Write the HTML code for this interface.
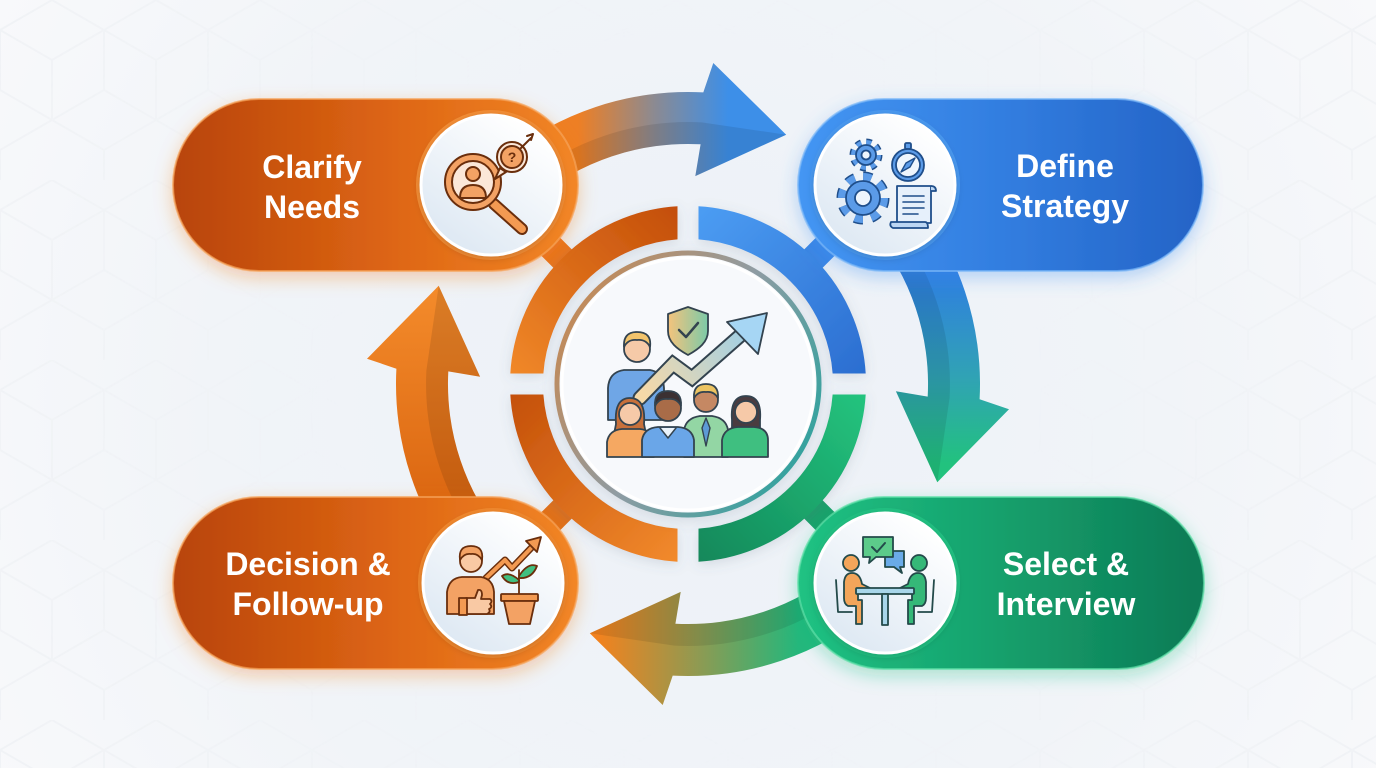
<!DOCTYPE html>
<html>
<head>
<meta charset="utf-8">
<style>
  html,body{margin:0;padding:0;width:1376px;height:768px;overflow:hidden;background:#f3f5f8;}
  svg{display:block;}
  .lbl{font-family:"Liberation Sans",Arial,sans-serif;font-weight:700;font-size:32px;fill:#ffffff;}
</style>
</head>
<body>
<svg width="1376" height="768" viewBox="0 0 1376 768" xmlns="http://www.w3.org/2000/svg">
  <defs>
    <radialGradient id="bg" cx="688" cy="400" r="800" gradientUnits="userSpaceOnUse">
      <stop offset="0" stop-color="#ecf1f7"/>
      <stop offset="0.6" stop-color="#f1f4f8"/>
      <stop offset="1" stop-color="#f8f9fb"/>
    </radialGradient>
    <pattern id="hex" width="104" height="180" patternUnits="userSpaceOnUse">
      <g fill="none" stroke="#e9ecf0" stroke-width="2">
        <path d="M52 0 L104 30 L104 90 L52 120 L0 90 L0 30 Z"/>
        <path d="M52 60 L52 120 M52 60 L104 30 M52 60 L0 30"/>
        <path d="M0 150 L0 210 M104 150 L104 210 M0 150 L52 120 M104 150 L52 120"/>
      </g>
    </pattern>
    <radialGradient id="bgmask" cx="688" cy="384" r="760" gradientUnits="userSpaceOnUse">
      <stop offset="0.45" stop-color="#fff" stop-opacity="0"/>
      <stop offset="1" stop-color="#fff" stop-opacity="1"/>
    </radialGradient>
    <mask id="hexmask"><rect width="1376" height="768" fill="url(#bgmask)"/></mask>

    <linearGradient id="gTop" x1="-110" y1="0" x2="40" y2="0" gradientUnits="userSpaceOnUse">
      <stop offset="0" stop-color="#ee7f24"/>
      <stop offset="0.5" stop-color="#8d8a90"/>
      <stop offset="1" stop-color="#3d8fe8"/>
    </linearGradient>
    <linearGradient id="gRight" x1="-110" y1="0" x2="80" y2="0" gradientUnits="userSpaceOnUse">
      <stop offset="0" stop-color="#2f7fe0"/>
      <stop offset="0.55" stop-color="#30a3b4"/>
      <stop offset="1" stop-color="#22c27e"/>
    </linearGradient>
    <linearGradient id="gBottom" x1="-110" y1="0" x2="90" y2="0" gradientUnits="userSpaceOnUse">
      <stop offset="0" stop-color="#24b77c"/>
      <stop offset="0.5" stop-color="#8f9a52"/>
      <stop offset="1" stop-color="#f2821e"/>
    </linearGradient>
    <linearGradient id="gLeft" x1="-110" y1="0" x2="90" y2="0" gradientUnits="userSpaceOnUse">
      <stop offset="0" stop-color="#dc6812"/>
      <stop offset="1" stop-color="#f38a2a"/>
    </linearGradient>

    <linearGradient id="rTL" x1="510" y1="384" x2="688" y2="207" gradientUnits="userSpaceOnUse">
      <stop offset="0" stop-color="#f28a2a"/>
      <stop offset="1" stop-color="#c24c08"/>
    </linearGradient>
    <linearGradient id="rTR" x1="698" y1="207" x2="866" y2="384" gradientUnits="userSpaceOnUse">
      <stop offset="0" stop-color="#4c9df3"/>
      <stop offset="1" stop-color="#2a6ccf"/>
    </linearGradient>
    <linearGradient id="rBR" x1="866" y1="394" x2="698" y2="561" gradientUnits="userSpaceOnUse">
      <stop offset="0" stop-color="#24c47e"/>
      <stop offset="1" stop-color="#12885a"/>
    </linearGradient>
    <linearGradient id="rBL" x1="510" y1="394" x2="677" y2="561" gradientUnits="userSpaceOnUse">
      <stop offset="0" stop-color="#c4500a"/>
      <stop offset="1" stop-color="#f28a2c"/>
    </linearGradient>
    <linearGradient id="innerRing" x1="557" y1="300" x2="819" y2="460" gradientUnits="userSpaceOnUse">
      <stop offset="0" stop-color="#c9884f"/>
      <stop offset="0.5" stop-color="#8f9ca3"/>
      <stop offset="1" stop-color="#2aa39e"/>
    </linearGradient>

    <clipPath id="cTL"><rect x="0" y="0" width="677.5" height="373.5"/></clipPath>
    <clipPath id="cTR"><rect x="698.5" y="0" width="700" height="373.5"/></clipPath>
    <clipPath id="cBR"><rect x="698.5" y="394.5" width="700" height="400"/></clipPath>
    <clipPath id="cBL"><rect x="0" y="394.5" width="677.5" height="400"/></clipPath>

    <linearGradient id="pOrange" x1="0" y1="0" x2="1" y2="0">
      <stop offset="0" stop-color="#b8440a"/>
      <stop offset="0.55" stop-color="#de6614"/>
      <stop offset="1" stop-color="#f28626"/>
    </linearGradient>
    <linearGradient id="pBlue" x1="0" y1="0" x2="1" y2="0">
      <stop offset="0" stop-color="#4496f3"/>
      <stop offset="0.5" stop-color="#327ee0"/>
      <stop offset="1" stop-color="#2463c6"/>
    </linearGradient>
    <linearGradient id="pGreen" x1="0" y1="0" x2="1" y2="0">
      <stop offset="0" stop-color="#20c283"/>
      <stop offset="0.5" stop-color="#15a06c"/>
      <stop offset="1" stop-color="#0d7a55"/>
    </linearGradient>
    <linearGradient id="circFill" x1="0.8" y1="0.1" x2="0.2" y2="0.95">
      <stop offset="0" stop-color="#ffffff"/>
      <stop offset="1" stop-color="#dde8f3"/>
    </linearGradient>

    <filter id="shO" x="-20%" y="-40%" width="140%" height="180%">
      <feDropShadow dx="0" dy="6" stdDeviation="9" flood-color="#f07a20" flood-opacity="0.35"/>
    </filter>
    <filter id="shB" x="-20%" y="-40%" width="140%" height="180%">
      <feDropShadow dx="0" dy="6" stdDeviation="9" flood-color="#3a8ef0" flood-opacity="0.35"/>
    </filter>
    <filter id="shG" x="-20%" y="-40%" width="140%" height="180%">
      <feDropShadow dx="0" dy="6" stdDeviation="9" flood-color="#20c080" flood-opacity="0.35"/>
    </filter>
    <filter id="shC" x="-30%" y="-30%" width="160%" height="160%">
      <feDropShadow dx="0" dy="2" stdDeviation="4" flood-color="#000" flood-opacity="0.18"/>
    </filter>
    <filter id="shSoft" x="-30%" y="-30%" width="160%" height="160%">
      <feDropShadow dx="0" dy="3" stdDeviation="6" flood-color="#5a6a80" flood-opacity="0.18"/>
    </filter>

    <linearGradient id="shieldG" x1="0" y1="0" x2="1" y2="0">
      <stop offset="0" stop-color="#f4c37c"/>
      <stop offset="1" stop-color="#7ccaa8"/>
    </linearGradient>
    <linearGradient id="trendG" x1="642" y1="392" x2="767" y2="313" gradientUnits="userSpaceOnUse">
      <stop offset="0" stop-color="#f6d9a8"/>
      <stop offset="1" stop-color="#8ecdf2"/>
    </linearGradient>

    <path id="arrowShape" d="M -187.7,-223.7 A 292 292 0 0 1 15.3,-291.6 L 25.3,-321 L 98.2,-249.3 L 7.3,-207.9 L 12.6,-239.7 A 240 240 0 0 0 -154.3,-183.8 Z"/>
    <path id="arrowShade" d="M -168.4,-200.7 A 262 262 0 0 1 13.7,-261.6 L 12.6,-239.7 A 240 240 0 0 0 -154.3,-183.8 Z M 13.7,-261.6 L 98.2,-249.3 L 7.3,-207.9 L 12.6,-239.7 Z"/>
  </defs>

  <rect width="1376" height="768" fill="url(#bg)"/>
  <rect width="1376" height="768" fill="url(#hex)" mask="url(#hexmask)" opacity="0.45"/>

  <!-- arrows -->
  <g transform="translate(688,384)">
    <g>
      <use href="#arrowShape" fill="url(#gTop)"/>
      <use href="#arrowShade" fill="#000" opacity="0.09"/>
    </g>
    <g transform="rotate(90)">
      <use href="#arrowShape" fill="url(#gRight)"/>
      <use href="#arrowShade" fill="#000" opacity="0.09"/>
    </g>
    <g transform="rotate(180)">
      <use href="#arrowShape" fill="url(#gBottom)"/>
      <use href="#arrowShade" fill="#000" opacity="0.09"/>
    </g>
    <g transform="rotate(270)">
      <use href="#arrowShape" fill="url(#gLeft)"/>
      <use href="#arrowShade" fill="#000" opacity="0.1"/>
    </g>
  </g>

  <!-- ring bridges -->
  <g stroke-width="26" stroke-linecap="butt">
    <line x1="567.8" y1="263.8" x2="528" y2="224" stroke="#e8741e"/>
    <line x1="808.2" y1="263.8" x2="848" y2="224" stroke="#3a86e6"/>
    <line x1="808.2" y1="504.2" x2="848" y2="544" stroke="#1aa06a"/>
    <line x1="567.8" y1="504.2" x2="528" y2="544" stroke="#e0701a"/>
  </g>

  <!-- ring segments -->
  <g fill="none" stroke-width="33" filter="url(#shSoft)">
    <circle cx="688" cy="384" r="161.5" stroke="url(#rTL)" clip-path="url(#cTL)"/>
    <circle cx="688" cy="384" r="161.5" stroke="url(#rTR)" clip-path="url(#cTR)"/>
    <circle cx="688" cy="384" r="161.5" stroke="url(#rBR)" clip-path="url(#cBR)"/>
    <circle cx="688" cy="384" r="161.5" stroke="url(#rBL)" clip-path="url(#cBL)"/>
  </g>

  <!-- inner circle -->
  <circle cx="688" cy="384" r="131" fill="#f7f9fc" stroke="url(#innerRing)" stroke-width="5" filter="url(#shSoft)"/>
  <circle cx="688" cy="384" r="126" fill="none" stroke="#ffffff" stroke-width="3" opacity="0.9"/>

  <!-- center icon -->
  <g stroke="#33434f" stroke-width="1.8" stroke-linejoin="round" stroke-linecap="round">
    <path d="M688,307 L708,314 L708,331 C708,342 699,349 688,355 C677,349 668,342 668,331 L668,314 Z" fill="url(#shieldG)"/>
    <path d="M679,330 L686,337 L698,323" fill="none" stroke-width="2.5"/>
    <path d="M608,420 L608,388 Q609,372 624,370 L650,370 Q663,372 664,388 L664,420 Z" fill="#6fa6e6"/>
    <circle cx="637" cy="349" r="13" fill="#f6caa8"/>
    <path d="M624,347 Q623,332 637,332 Q652,332 650,347 Q646,339 637,340 Q628,339 624,347 Z" fill="#f2c46c"/>
    <polyline points="640,398 673,364 692,378 750,327" fill="none" stroke="#33434f" stroke-width="15" stroke-linejoin="miter"/>
    <polyline points="640,398 673,364 692,378 750,327" fill="none" stroke="url(#trendG)" stroke-width="11" stroke-linejoin="miter"/>
    <path d="M767,313 L727,322 L758,354 Z" fill="#a6d6f4"/>
    <path d="M684,457 L684,430 Q686,418 700,416 L712,416 Q726,418 728,430 L728,457 Z" fill="#93d6a4"/>
    <path d="M706,418 L702,428 L706,446 L710,428 Z" fill="#5d9ad6" stroke-width="1.4"/>
    <circle cx="706" cy="400" r="12" fill="#c58863"/>
    <path d="M694,398 Q693,384 706,384 Q719,384 718,398 Q714,391 706,392 Q698,391 694,398 Z" fill="#ecc462"/>
    <path d="M732,420 Q730,396 746,396 Q762,396 760,420 L760,432 L732,432 Z" fill="#4a3c40"/>
    <path d="M722,457 L722,440 Q724,428 738,427 L754,427 Q768,428 768,440 L768,457 Z" fill="#3fbf80"/>
    <circle cx="746" cy="412" r="11" fill="#f6c9a8"/>
    <path d="M616,424 Q614,398 630,398 Q646,398 644,424 L646,434 L614,434 Z" fill="#c8703a"/>
    <path d="M607,457 L607,442 Q609,430 622,429 L640,429 Q652,430 654,442 L654,457 Z" fill="#f5a862"/>
    <circle cx="630" cy="414" r="11" fill="#f6c9a8"/>
    <path d="M642,457 L642,440 Q644,428 658,427 L678,427 Q692,428 694,440 L694,457 Z" fill="#6aa6e8"/>
    <path d="M660,428 L668,438 L676,428" fill="#eaf3fb" stroke-width="1.5"/>
    <circle cx="668" cy="408" r="13" fill="#a96c48"/>
    <path d="M655,406 Q654,391 668,391 Q682,391 681,406 Q677,398 668,399 Q659,398 655,406 Z" fill="#3b3032"/>
  </g>

  <!-- pills -->
  <rect x="173" y="99" width="405" height="172" rx="86" fill="url(#pOrange)" stroke="#f7a45a" stroke-opacity="0.7" stroke-width="2" filter="url(#shO)"/>
  <rect x="798" y="99" width="405" height="172" rx="86" fill="url(#pBlue)" stroke="#7ab8f8" stroke-opacity="0.7" stroke-width="2" filter="url(#shB)"/>
  <rect x="173" y="497" width="405" height="172" rx="86" fill="url(#pOrange)" stroke="#f7a45a" stroke-opacity="0.7" stroke-width="2" filter="url(#shO)"/>
  <rect x="798" y="497" width="406" height="172" rx="86" fill="url(#pGreen)" stroke="#5ee0a8" stroke-opacity="0.7" stroke-width="2" filter="url(#shG)"/>

  <!-- icon circles -->
  <circle cx="491" cy="185" r="75" fill="#f48e36"/>
  <circle cx="885" cy="185" r="75" fill="#4a9af2"/>
  <circle cx="493" cy="583" r="75" fill="#f2892e"/>
  <circle cx="885" cy="583" r="75" fill="#22c283"/>
  <g filter="url(#shC)">
    <circle cx="491" cy="185" r="70" fill="url(#circFill)" stroke="#ffffff" stroke-width="3"/>
    <circle cx="885" cy="185" r="70" fill="url(#circFill)" stroke="#ffffff" stroke-width="3"/>
    <circle cx="493" cy="583" r="70" fill="url(#circFill)" stroke="#ffffff" stroke-width="3"/>
    <circle cx="885" cy="583" r="70" fill="url(#circFill)" stroke="#ffffff" stroke-width="3"/>
  </g>

  <!-- labels -->
  <text class="lbl" x="312" y="178" text-anchor="middle">Clarify</text>
  <text class="lbl" x="312" y="218" text-anchor="middle">Needs</text>
  <text class="lbl" x="1065" y="177" text-anchor="middle">Define</text>
  <text class="lbl" x="1065" y="217" text-anchor="middle">Strategy</text>
  <text class="lbl" x="308" y="575" text-anchor="middle">Decision &amp;</text>
  <text class="lbl" x="308" y="615" text-anchor="middle">Follow-up</text>
  <text class="lbl" x="1066" y="575" text-anchor="middle">Select &amp;</text>
  <text class="lbl" x="1066" y="615" text-anchor="middle">Interview</text>

  <!-- Clarify icon -->
  <g stroke="#6a2e0c" stroke-width="2" stroke-linejoin="round" stroke-linecap="round">
    <line x1="494" y1="204" x2="522" y2="229" stroke-width="12"/>
    <line x1="494" y1="204" x2="522" y2="229" stroke="#f39a52" stroke-width="8"/>
    <circle cx="473" cy="182" r="28" fill="#f3a264"/>
    <circle cx="473" cy="182" r="21" fill="#fbe7d8"/>
    <circle cx="473" cy="174" r="7" fill="#f3a264"/>
    <path d="M460,198 Q460,185 473,185 Q486,185 486,198 Z" fill="#f3a264"/>
    <path d="M500,168 L495,179 L506,172 Z" fill="#fbe7d8"/>
    <circle cx="512" cy="157" r="15" fill="#fbe7d8"/>
    <circle cx="512" cy="157" r="11" fill="#f3a264"/>
    <line x1="520" y1="149" x2="531" y2="138"/>
    <path d="M527,136 L533,134 L531,140" fill="none"/>
  </g>
  <text x="512" y="162" text-anchor="middle" font-family="Liberation Sans,Arial,sans-serif" font-weight="700" font-size="14" fill="#6a2e0c">?</text>

  <!-- Strategy icon -->
  <g stroke="#1f4e8a" stroke-width="1.8" stroke-linejoin="round">
    <circle cx="866" cy="155" r="12.5" fill="none" stroke="#1f4e8a" stroke-width="8" stroke-dasharray="4.9 4.9"/>
    <circle cx="866" cy="155" r="12.5" fill="none" stroke="#5b9be8" stroke-width="5" stroke-dasharray="4.9 4.9"/>
    <circle cx="866" cy="155" r="10" fill="#5b9be8"/>
    <circle cx="866" cy="155" r="4.5" fill="#eef5fd"/>
    <circle cx="863" cy="198" r="21" fill="none" stroke="#1f4e8a" stroke-width="11" stroke-dasharray="8.2 8.3"/>
    <circle cx="863" cy="198" r="21" fill="none" stroke="#5b9be8" stroke-width="8" stroke-dasharray="8.2 8.3"/>
    <circle cx="863" cy="198" r="17" fill="#5b9be8"/>
    <circle cx="863" cy="198" r="8" fill="#eef5fd"/>
    <rect x="905" y="143" width="6" height="6" rx="1.5" fill="#5b9be8"/>
    <circle cx="908" cy="165" r="16" fill="#5b9be8"/>
    <circle cx="908" cy="165" r="12" fill="#eef5fd"/>
    <path d="M915,158 L910,167 L901,172 L906,163 Z" fill="#5b9be8" stroke-width="1.4"/>
    <path d="M897,186 L931,186 L931,223 L897,223 Z" fill="#e6f0fb"/>
    <path d="M931,186 Q936,186 936,191 L931,191" fill="#bcd6f3"/>
    <path d="M891,222 L925,222 Q928,222 928,228 L893,228 Q889,226 891,222 Z" fill="#bcd6f3"/>
    <g stroke-width="1.6" stroke-linecap="round">
      <line x1="903" y1="196" x2="924" y2="196"/>
      <line x1="903" y1="202" x2="924" y2="202"/>
      <line x1="903" y1="208" x2="924" y2="208"/>
      <line x1="903" y1="214" x2="918" y2="214"/>
    </g>
  </g>

  <!-- Decision icon -->
  <g stroke="#6a2e0c" stroke-width="1.8" stroke-linejoin="round" stroke-linecap="round">
    <polyline points="486,578 505,560 512,568 533,546" fill="none" stroke-width="7"/>
    <polyline points="486,578 505,560 512,568 533,546" fill="none" stroke="#f39a52" stroke-width="4"/>
    <path d="M541,537 L526,541 L537,552 Z" fill="#f39a52"/>
    <path d="M447,614 L447,592 Q449,578 462,577 L481,577 Q493,579 494,592 L494,614 Z" fill="#f3a264"/>
    <circle cx="471" cy="561" r="11" fill="#f9c9a4"/>
    <path d="M460,560 Q458,546 471,546 Q484,546 482,560 Q478,553 471,554 Q464,553 460,560 Z" fill="#f3a264"/>
    <path d="M466,598 L475,598 L478,590 Q482,589 482,595 L481,599 L490,599 Q493,601 490,604 Q493,607 489,609 Q491,612 487,614 L466,614 Z" fill="#f9c9a4"/>
    <rect x="459" y="598" width="8" height="17" fill="#f39a52"/>
    <line x1="519" y1="596" x2="519" y2="570"/>
    <path d="M519,580 Q509,571 502,576 Q508,586 519,582 Z" fill="#3fbf80"/>
    <path d="M519,576 Q528,562 537,566 Q532,579 519,578 Z" fill="#3fbf80"/>
    <rect x="501" y="594" width="37" height="7" rx="1" fill="#f39a52"/>
    <path d="M504,601 L535,601 L530,624 L509,624 Z" fill="#f3a264"/>
  </g>

  <!-- Interview icon -->
  <g stroke="#234a4a" stroke-width="1.8" stroke-linejoin="round" stroke-linecap="round">
    <path d="M836,580 L838,612 L852,612" fill="none"/>
    <path d="M934,580 L932,612 L918,612" fill="none"/>
    <path d="M844,598 L844,582 Q845,573 852,573 Q860,573 862,584 L870,588 L870,593 L858,593 L858,600 L862,600 L862,624 L856,624 L856,606 L848,606 Q844,604 844,598 Z" fill="#f3a55a"/>
    <circle cx="851" cy="563" r="8" fill="#f3a55a"/>
    <path d="M926,598 L926,582 Q925,573 918,573 Q910,573 908,584 L900,588 L900,593 L912,593 L912,600 L908,600 L908,624 L914,624 L914,606 L922,606 Q926,604 926,598 Z" fill="#35b878"/>
    <circle cx="919" cy="563" r="8" fill="#35b878"/>
    <rect x="856" y="588" width="58" height="6" rx="1" fill="#a8d6ea"/>
    <rect x="882" y="594" width="6" height="31" fill="#a8d6ea"/>
    <path d="M885,551 L904,551 L904,567 L900,567 L902,573 L894,567 L885,567 Z" fill="#6aabe8"/>
    <path d="M863,537 L893,537 L893,557 L876,557 L869,563 L870,557 L863,557 Z" fill="#5ccb8a"/>
    <path d="M872,547 L877,552 L885,543" fill="none" stroke-width="2"/>
  </g>
</svg>
</body>
</html>
